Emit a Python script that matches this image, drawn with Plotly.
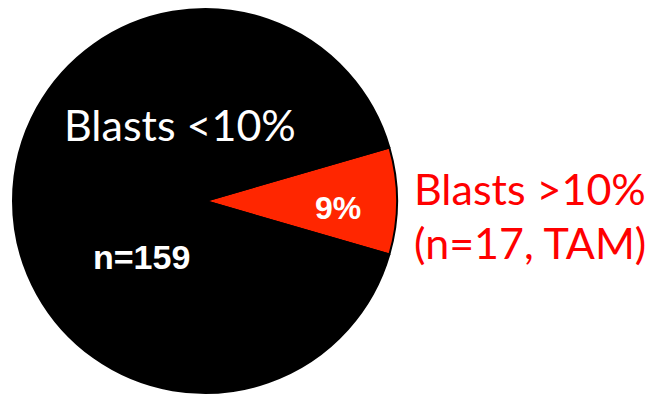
import plotly.graph_objects as go

# Data
labels = ["Blasts >10%", "Blasts <10%"]
percent = [9, 91]
counts = [17, 159]
colors = ["#FF2600", "#000000"]

W, H = 657, 395

fig = go.Figure(go.Pie(
    labels=labels,
    values=percent,
    sort=False,
    direction="clockwise",
    rotation=90 - percent[0] * 3.6 / 2,
    marker=dict(colors=colors, line=dict(color="#000000", width=2)),
    textinfo="none",
    hoverinfo="label+percent",
    showlegend=False,
    domain=dict(x=[13 / W, 397 / W], y=[2 / H, 386 / H]),
))

def ann(text, x, y, size, color, family, bold=False):
    fig.add_annotation(
        x=x / W, y=1 - y / H, xref="paper", yref="paper",
        text=f"<b>{text}</b>" if bold else text,
        showarrow=False, xanchor="center", yanchor="middle",
        font=dict(size=size, color=color, family=family),
    )

ann(labels[1], 180, 124, 43, "white", "Lato")
ann(f"n={counts[1]}", 141, 257, 34, "white", "Liberation Sans", bold=True)
ann(f"{percent[0]}%", 338, 208, 32, "white", "Liberation Sans", bold=True)
ann(labels[0], 530, 188, 43, "#FF0000", "Lato")
ann(f"(n={counts[0]}, TAM)", 530, 243, 43, "#FF0000", "Lato")

fig.update_layout(
    width=W, height=H,
    margin=dict(l=0, r=0, t=0, b=0),
    paper_bgcolor="white", plot_bgcolor="white",
)

fig.write_html("out.html")
